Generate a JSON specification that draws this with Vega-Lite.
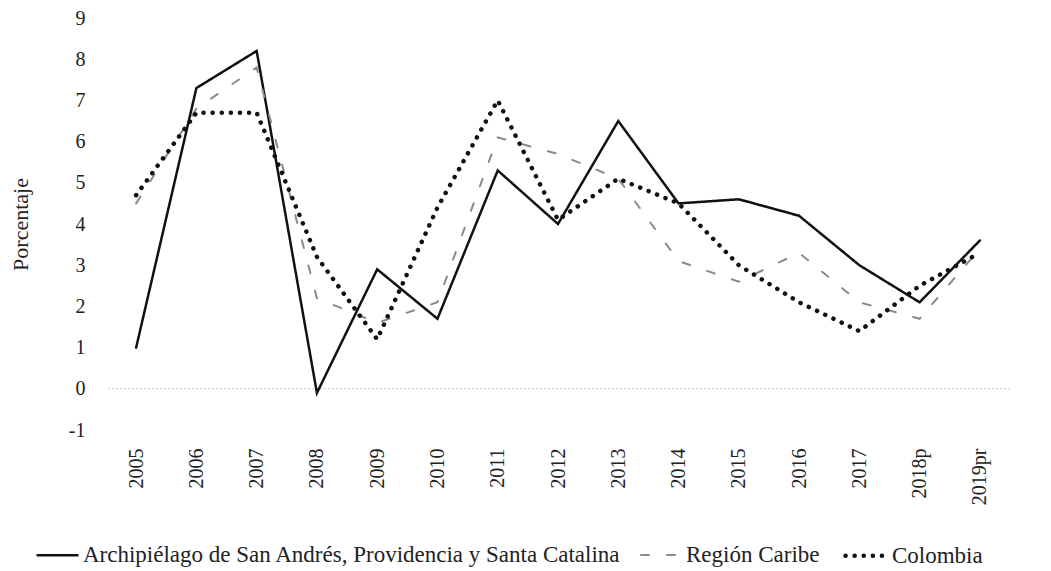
{
  "$schema": "https://vega.github.io/schema/vega-lite/v6.json",
  "width": 904,
  "height": 412,
  "autosize": {"type": "none"},
  "padding": {"left": 106, "top": 18, "right": 41, "bottom": 141},
  "background": "#ffffff",
  "config": {
    "view": {"stroke": null},
    "font": "Liberation Serif",
    "axis": {"labelFont": "Liberation Serif", "titleFont": "Liberation Serif", "labelColor": "#222222", "titleColor": "#222222", "titleFontWeight": "normal"},
    "legend": {"labelFont": "Liberation Serif", "labelColor": "#222222"}
  },
  "datasets": {
    "serie": [
      {"anio": "2005", "serie": "Archipiélago de San Andrés, Providencia y Santa Catalina", "valor": 1.0},
      {"anio": "2006", "serie": "Archipiélago de San Andrés, Providencia y Santa Catalina", "valor": 7.3},
      {"anio": "2007", "serie": "Archipiélago de San Andrés, Providencia y Santa Catalina", "valor": 8.2},
      {"anio": "2008", "serie": "Archipiélago de San Andrés, Providencia y Santa Catalina", "valor": -0.1},
      {"anio": "2009", "serie": "Archipiélago de San Andrés, Providencia y Santa Catalina", "valor": 2.9},
      {"anio": "2010", "serie": "Archipiélago de San Andrés, Providencia y Santa Catalina", "valor": 1.7},
      {"anio": "2011", "serie": "Archipiélago de San Andrés, Providencia y Santa Catalina", "valor": 5.3},
      {"anio": "2012", "serie": "Archipiélago de San Andrés, Providencia y Santa Catalina", "valor": 4.0},
      {"anio": "2013", "serie": "Archipiélago de San Andrés, Providencia y Santa Catalina", "valor": 6.5},
      {"anio": "2014", "serie": "Archipiélago de San Andrés, Providencia y Santa Catalina", "valor": 4.5},
      {"anio": "2015", "serie": "Archipiélago de San Andrés, Providencia y Santa Catalina", "valor": 4.6},
      {"anio": "2016", "serie": "Archipiélago de San Andrés, Providencia y Santa Catalina", "valor": 4.2},
      {"anio": "2017", "serie": "Archipiélago de San Andrés, Providencia y Santa Catalina", "valor": 3.0},
      {"anio": "2018p", "serie": "Archipiélago de San Andrés, Providencia y Santa Catalina", "valor": 2.1},
      {"anio": "2019pr", "serie": "Archipiélago de San Andrés, Providencia y Santa Catalina", "valor": 3.6},
      {"anio": "2005", "serie": "Región Caribe", "valor": 4.5},
      {"anio": "2006", "serie": "Región Caribe", "valor": 6.8},
      {"anio": "2007", "serie": "Región Caribe", "valor": 7.8},
      {"anio": "2008", "serie": "Región Caribe", "valor": 2.2},
      {"anio": "2009", "serie": "Región Caribe", "valor": 1.6},
      {"anio": "2010", "serie": "Región Caribe", "valor": 2.1},
      {"anio": "2011", "serie": "Región Caribe", "valor": 6.1},
      {"anio": "2012", "serie": "Región Caribe", "valor": 5.7},
      {"anio": "2013", "serie": "Región Caribe", "valor": 5.1},
      {"anio": "2014", "serie": "Región Caribe", "valor": 3.1},
      {"anio": "2015", "serie": "Región Caribe", "valor": 2.6},
      {"anio": "2016", "serie": "Región Caribe", "valor": 3.3},
      {"anio": "2017", "serie": "Región Caribe", "valor": 2.1},
      {"anio": "2018p", "serie": "Región Caribe", "valor": 1.7},
      {"anio": "2019pr", "serie": "Región Caribe", "valor": 3.4},
      {"anio": "2005", "serie": "Colombia", "valor": 4.7},
      {"anio": "2006", "serie": "Colombia", "valor": 6.7},
      {"anio": "2007", "serie": "Colombia", "valor": 6.7},
      {"anio": "2008", "serie": "Colombia", "valor": 3.2},
      {"anio": "2009", "serie": "Colombia", "valor": 1.2},
      {"anio": "2010", "serie": "Colombia", "valor": 4.4},
      {"anio": "2011", "serie": "Colombia", "valor": 7.0},
      {"anio": "2012", "serie": "Colombia", "valor": 4.1},
      {"anio": "2013", "serie": "Colombia", "valor": 5.1},
      {"anio": "2014", "serie": "Colombia", "valor": 4.5},
      {"anio": "2015", "serie": "Colombia", "valor": 3.0},
      {"anio": "2016", "serie": "Colombia", "valor": 2.1},
      {"anio": "2017", "serie": "Colombia", "valor": 1.4},
      {"anio": "2018p", "serie": "Colombia", "valor": 2.5},
      {"anio": "2019pr", "serie": "Colombia", "valor": 3.3}
    ],
    "cero": [{"y": 0}]
  },
  "layer": [
    {
      "data": {"name": "cero"},
      "mark": {"type": "rule", "color": "#c8c8c8", "strokeWidth": 1, "strokeDash": [2, 2]},
      "encoding": {"y": {"field": "y", "type": "quantitative"}}
    },
    {
      "data": {"name": "serie"},
      "mark": {"type": "line", "strokeCap": "round", "strokeJoin": "miter"},
      "encoding": {
        "x": {
          "field": "anio", "type": "ordinal", "sort": null,
          "scale": {"type": "point", "padding": 0.5},
          "axis": {"title": null, "labelAngle": 270, "labelFontSize": 20, "labelPadding": 18, "ticks": false, "domain": false, "grid": false, "labelAlign": "right", "labelBaseline": "middle"}
        },
        "y": {
          "field": "valor", "type": "quantitative",
          "scale": {"domain": [-1, 9], "nice": false, "zero": false},
          "axis": {"title": "Porcentaje", "titleFontSize": 22, "titleAngle": -90, "titleX": -86, "titleY": 206, "titleAlign": "center", "titleBaseline": "middle", "values": [-1, 0, 1, 2, 3, 4, 5, 6, 7, 8, 9], "labelExpr": "'' + datum.value", "labelFontSize": 20, "labelPadding": 21, "ticks": false, "domain": false, "grid": false}
        },
        "color": {
          "field": "serie", "type": "nominal",
          "scale": {"domain": ["Archipiélago de San Andrés, Providencia y Santa Catalina", "Región Caribe", "Colombia"], "range": ["#111111", "#8a8a8a", "#111111"]},
          "legend": {
            "title": null, "orient": "none", "direction": "horizontal", "legendX": -70, "legendY": 515, "padding": 0,
            "symbolType": "stroke", "symbolSize": 1600, "labelFont": "Liberation Serif", "labelFontSize": 23, "labelColor": "#222222", "labelOffset": 4, "columnPadding": 16, "labelLimit": 0,
            "labelExpr": "datum.label == 'Región Caribe' ? datum.label + '\u00a0\u00a0\u00a0\u00a0\u00a0\u00a0' : datum.label",
            "encode": {
              "symbols": {"update": {"strokeCap": {"value": "round"}, "strokeWidth": {"signal": "datum.value == 'Colombia' ? 4.5 : datum.value == 'Región Caribe' ? 2 : 3"}}},
              "labels": {"update": {"font": {"value": "Liberation Serif"}, "fontSize": {"value": 23}, "fill": {"value": "#222222"}}}
            }
          }
        },
        "strokeDash": {
          "field": "serie", "type": "nominal",
          "scale": {"domain": ["Archipiélago de San Andrés, Providencia y Santa Catalina", "Región Caribe", "Colombia"], "range": [[1, 0], [8, 18], [0.1, 9]]}
        },
        "strokeWidth": {
          "field": "serie", "type": "nominal",
          "scale": {"type": "ordinal", "domain": ["Archipiélago de San Andrés, Providencia y Santa Catalina", "Región Caribe", "Colombia"], "range": [2.5, 2, 4.5]}
        }
      }
    }
  ]
}
